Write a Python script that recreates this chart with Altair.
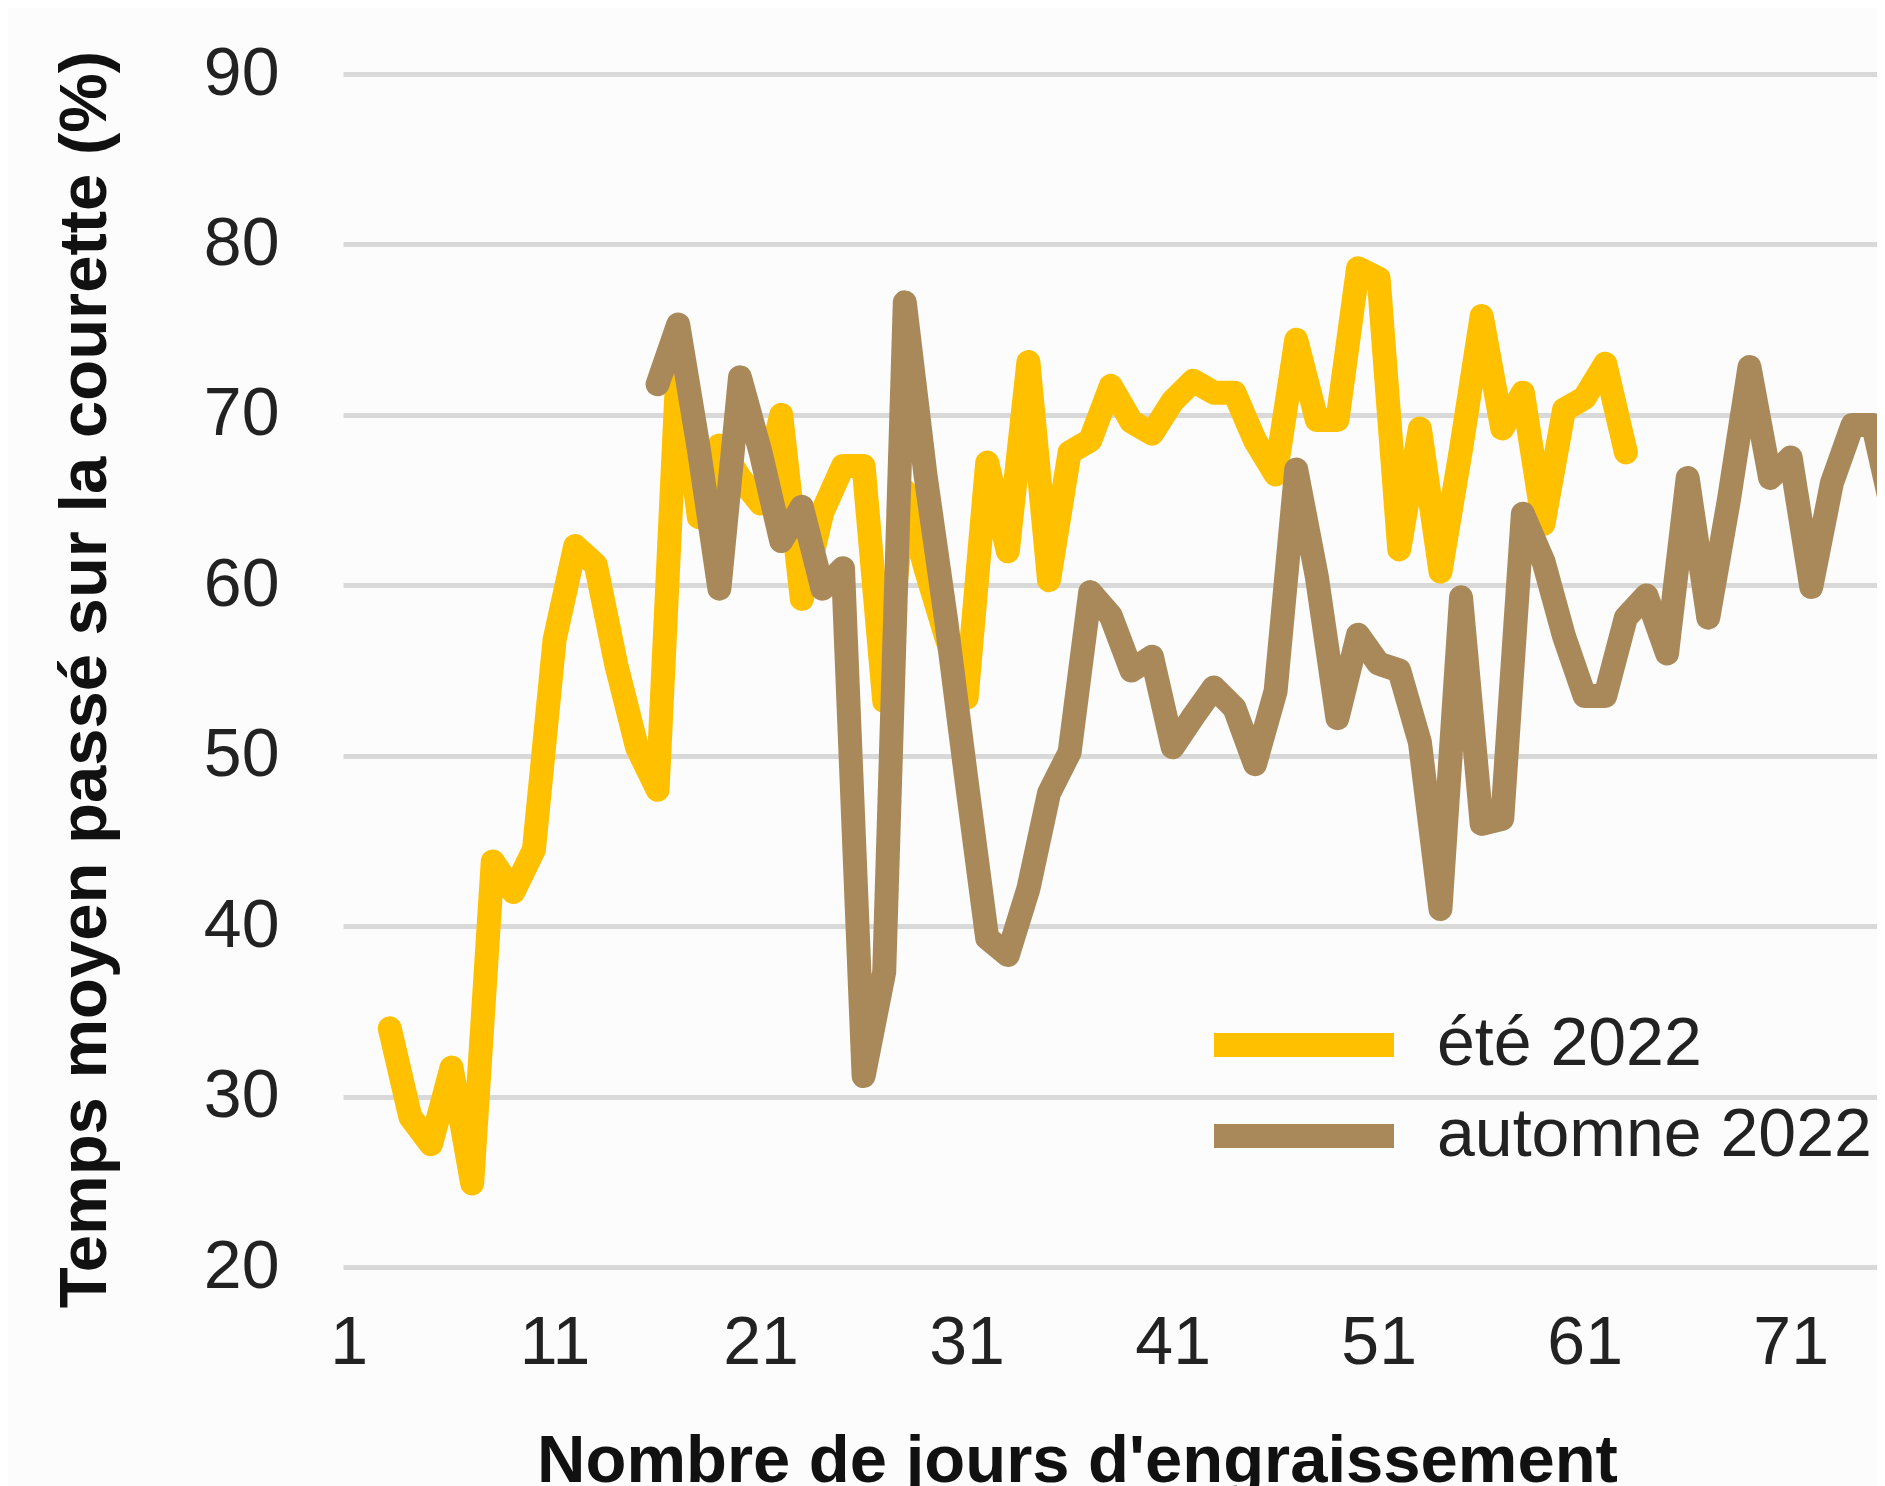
import altair as alt
import pandas as pd

# ---- data ----
ete_days = list(range(3, 64))
ete_values = [34.0, 28.8, 27.2, 31.7, 24.9, 43.8, 42.0, 44.5, 56.8, 62.3,
              61.2, 55.3, 50.5, 48.0, 73.5, 64.0, 68.2, 66.3, 64.8, 70.0,
              59.2, 64.3, 67.0, 67.0, 53.2, 65.5, 61.0, 57.0, 53.4, 67.2,
              62.0, 73.1, 60.3, 67.8, 68.5, 71.7, 69.6, 68.9, 70.8, 72.0,
              71.3, 71.3, 68.5, 66.5, 74.4, 69.7, 69.7, 78.6, 78.0, 62.1,
              69.2, 60.8, 68.0, 75.8, 69.2, 71.3, 63.6, 70.3, 71.0, 73.0,
              67.8]

automne_days = list(range(16, 77))
automne_values = [71.8, 75.3, 68.0, 59.8, 72.2, 67.8, 62.6, 64.6, 59.8, 61.0,
                  31.2, 37.3, 76.6, 66.5, 58.0, 48.5, 39.3, 38.3, 42.2, 47.8,
                  50.2, 59.6, 58.2, 55.0, 55.8, 50.5, 52.3, 54.0, 52.8, 49.5,
                  53.8, 66.8, 60.5, 52.2, 57.1, 55.4, 55.0, 50.8, 41.0, 59.3,
                  46.0, 46.3, 64.2, 61.4, 57.0, 53.5, 53.5, 58.1, 59.4, 56.0,
                  66.3, 58.1, 65.0, 72.8, 66.3, 67.5, 59.9, 66.0, 69.4, 69.4,
                  64.0]

series_names = ["été 2022", "automne 2022"]
series_colors = ["#FFC000", "#A9895A"]
x_ticks = [1, 11, 21, 31, 41, 51, 61, 71]
y_ticks = [20, 30, 40, 50, 60, 70, 80, 90]

df = pd.DataFrame({
    "jour": ete_days + automne_days,
    "valeur": ete_values + automne_values,
    "serie": [series_names[0]] * len(ete_days) + [series_names[1]] * len(automne_days),
})

FONT = "Liberation Sans"
W, H = 1534, 1193
LINE_W = 24

x_enc = alt.X(
    "jour:Q",
    scale=alt.Scale(domain=[0.73, 75.19], nice=False, zero=False),
    axis=alt.Axis(
        values=x_ticks, title="Nombre de jours d'engraissement",
        grid=False, ticks=False, tickSize=0, domain=False,
        labelFontSize=68, labelFont=FONT, labelColor="#222222",
        labelPadding=42, labelFlush=False,
        titleFontSize=67, titleFont=FONT, titleFontWeight="bold", titleColor="#111111",
        titleX=734, titleY=161, titleAlign="center", titleBaseline="top",
    ),
)
y_enc = alt.Y(
    "valeur:Q",
    scale=alt.Scale(domain=[20, 90], nice=False, zero=False),
    axis=alt.Axis(
        values=y_ticks, title="Temps moyen passé sur la courette (%)",
        grid=True, gridColor="#D9D9D9", gridWidth=5,
        ticks=False, tickSize=0, domain=False,
        labelFontSize=68, labelFont=FONT, labelColor="#222222", labelPadding=64,
        titleFontSize=67, titleFont=FONT, titleFontWeight="bold", titleColor="#111111",
        titleAngle=-90, titleX=-258, titleY=605, titleAlign="center", titleBaseline="middle",
    ),
)
color_enc = alt.Color(
    "serie:N",
    scale=alt.Scale(domain=series_names, range=series_colors),
    legend=alt.Legend(
        orient="none", legendX=859, legendY=937, direction="vertical",
        title=None, symbolType="stroke", symbolSize=32400, symbolStrokeWidth=LINE_W,
        labelFontSize=68, labelFont=FONT, labelColor="#222222", labelLimit=1000,
        labelOffset=31, clipHeight=68, rowPadding=23, padding=0,
    ),
)

base = alt.Chart(df).mark_line(strokeWidth=LINE_W, strokeJoin="round", strokeCap="round", clip=True)

layer_ete = base.transform_filter(alt.datum.serie == series_names[0]).encode(
    x=x_enc, y=y_enc, color=color_enc)
layer_aut = base.transform_filter(alt.datum.serie == series_names[1]).encode(
    x=x_enc, y=y_enc, color=color_enc)

chart = alt.layer(layer_ete, layer_aut).properties(
    width=W, height=H,
    autosize=alt.AutoSizeParams(type="none"),
    padding={"left": 335, "top": 66, "right": 0, "bottom": 219},
    background="#FCFCFC",
).configure_view(stroke=None)

chart.save("out.html", embed_options={"renderer": "svg", "actions": False})
